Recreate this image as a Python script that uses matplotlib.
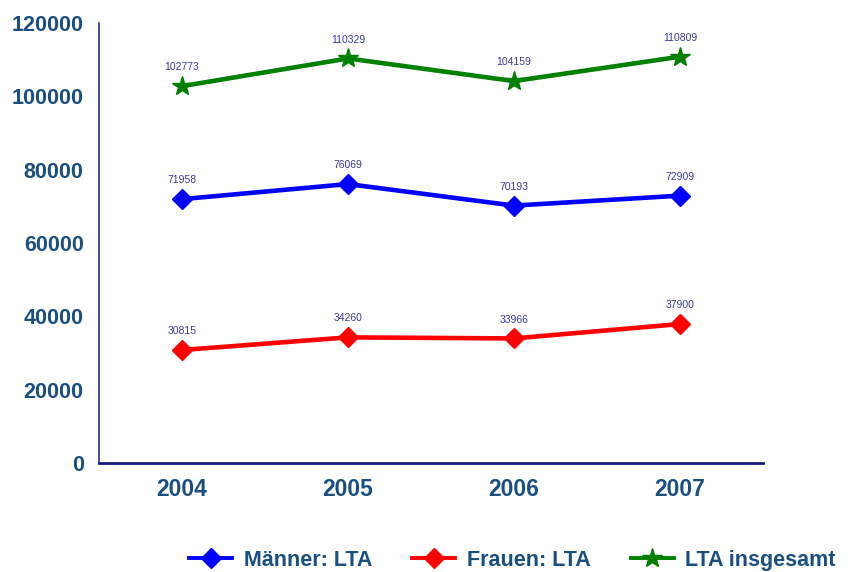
import numpy as np
import matplotlib

matplotlib.use("Agg")
import matplotlib.pyplot as plt

# ---------------------------------------------------------------------------
# Data
# ---------------------------------------------------------------------------
YEARS = ["2004", "2005", "2006", "2007"]
MAENNER = [71958, 76069, 70193, 72909]
FRAUEN = [30815, 34260, 33966, 37900]
INSGESAMT = [102773, 110329, 104159, 110809]

TICK_COLOR = "#1b4f80"
LABEL_COLOR = "#3a3a9a"
AXIS_COLOR = "#2b2b8f"

plt.rcParams["font.family"] = ["Liberation Sans", "DejaVu Sans"]

fig = plt.figure(figsize=(8.48, 5.72), dpi=100)
ax = fig.add_axes([0.1167, 0.1906, 0.7831, 0.7692])

x = np.arange(len(YEARS))
series = [
    (MAENNER, "#0000ff", "D", 10, "Männer: LTA"),
    (FRAUEN, "#ff0000", "D", 10, "Frauen: LTA"),
    (INSGESAMT, "#008000", "*", 15, "LTA insgesamt"),
]
for vals, color, marker, ms, label in series:
    ax.plot(x, vals, color=color, linewidth=3.3, marker=marker, markersize=ms,
            label=label)
    for xi, v in zip(x, vals):
        ax.annotate(str(v), (xi, v), xytext=(0, 10), textcoords="offset points",
                    ha="center", va="bottom", fontsize=7.5, color=LABEL_COLOR)

ax.set_xlim(-0.5, 3.5)
ax.set_ylim(0, 120000)
ax.set_yticks(np.arange(0, 120001, 20000))
ax.set_xticks(x)
ax.set_xticklabels(YEARS)

for lbl in ax.get_yticklabels():
    lbl.set_fontweight("bold")
    lbl.set_fontsize(15.5)
    lbl.set_color(TICK_COLOR)
for lbl in ax.get_xticklabels():
    lbl.set_fontweight("bold")
    lbl.set_fontsize(16.5)
    lbl.set_color(TICK_COLOR)

ax.tick_params(axis="y", length=0, pad=11)
ax.tick_params(axis="x", length=0, pad=11)
for spine in ("top", "right"):
    ax.spines[spine].set_visible(False)
ax.spines["left"].set_color(AXIS_COLOR)
ax.spines["left"].set_linewidth(1.2)
ax.spines["bottom"].set_color("#1a1a80")
ax.spines["bottom"].set_linewidth(2)

leg = fig.legend(loc="lower left", bbox_to_anchor=(0.2, -0.032), ncol=3,
                 frameon=False, handlelength=2.0, handletextpad=0.55,
                 columnspacing=1.85, prop={"weight": "bold", "size": 15.5})
for t in leg.get_texts():
    t.set_color(TICK_COLOR)
for h in leg.legend_handles:
    h.set_linewidth(2.8)

fig.savefig("out.png", dpi=100)
